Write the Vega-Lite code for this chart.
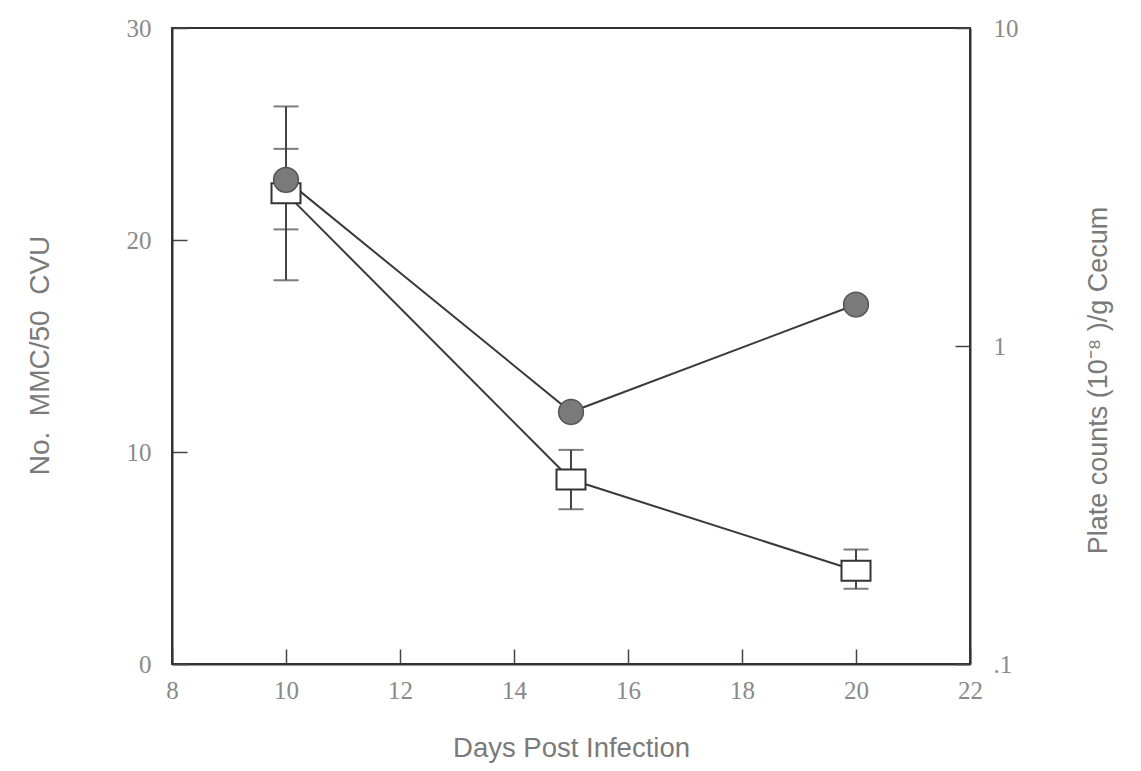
{
  "$schema": "https://vega.github.io/schema/vega-lite/v6.json",
  "width": 798,
  "height": 636,
  "autosize": "none",
  "padding": {"left": 172, "top": 28, "right": 171, "bottom": 107},
  "background": "white",
  "config": {
    "view": {"stroke": "#333333", "strokeWidth": 2},
    "axis": {
      "grid": false,
      "domainColor": "#333333",
      "domainWidth": 2,
      "tickColor": "#444444",
      "tickWidth": 1.5,
      "tickSize": -15,
      "labelFont": "Liberation Serif",
      "labelFontSize": 25,
      "labelColor": "#8a8a8a",
      "titleFont": "Liberation Sans",
      "titleFontSize": 27,
      "titleFontWeight": "normal",
      "titleColor": "#7a7a7a"
    }
  },
  "datasets": {
    "squares": [
      {"day": 10, "mmc": 22.2},
      {"day": 15, "mmc": 8.7},
      {"day": 20, "mmc": 4.4}
    ],
    "circles": [
      {"day": 10, "plate": 3.33},
      {"day": 15, "plate": 0.62},
      {"day": 20, "plate": 1.35}
    ],
    "err": [
      {"day": 10, "lo": 18.1, "hi": 26.3},
      {"day": 10, "lo": 20.5, "hi": 24.3},
      {"day": 15, "lo": 7.3, "hi": 10.1},
      {"day": 20, "lo": 3.55, "hi": 5.4}
    ]
  },
  "encoding": {
    "x": {
      "field": "day",
      "type": "quantitative",
      "scale": {"domain": [8, 22], "nice": false, "zero": false},
      "axis": {
        "values": [8, 10, 12, 14, 16, 18, 20, 22],
        "title": "Days Post Infection",
        "titleFontSize": 27.5,
        "labelPadding": 29,
        "titleY": 84,
        "titleBaseline": "middle",
        "labelFlush": false
      }
    }
  },
  "layer": [
    {
      "data": {"name": "err"},
      "mark": {"type": "rule", "color": "#444444", "strokeWidth": 2},
      "encoding": {
        "y": {
          "field": "lo",
          "type": "quantitative",
          "scale": {"domain": [0, 30], "nice": false, "zero": false},
          "axis": {
            "orient": "left",
            "values": [0, 10, 20, 30],
            "title": "No.\u00a0\u00a0MMC/50\u00a0\u00a0CVU",
            "titleFontSize": 28,
            "titleAngle": 270,
            "titleX": -132,
            "titleY": 327,
            "titleAlign": "center",
            "titleBaseline": "middle",
            "labelPadding": 36
          }
        },
        "y2": {"field": "hi"}
      }
    },
    {
      "data": {"name": "err"},
      "transform": [{"fold": ["lo", "hi"], "as": ["end", "val"]}],
      "mark": {"type": "tick", "orient": "horizontal", "size": 25, "thickness": 2, "color": "#444444"},
      "encoding": {
        "y": {
          "field": "val",
          "type": "quantitative",
          "scale": {"domain": [0, 30], "nice": false, "zero": false},
          "axis": null
        }
      }
    },
    {
      "data": {"name": "circles"},
      "mark": {"type": "line", "color": "#3a3a3a", "strokeWidth": 2},
      "encoding": {
        "y": {
          "field": "plate",
          "type": "quantitative",
          "scale": {"type": "log", "domain": [0.1, 10], "nice": false},
          "axis": {
            "orient": "right",
            "values": [0.1, 1, 10],
            "labelExpr": "datum.value < 0.5 ? '.1' : datum.value < 5 ? '1' : '10'",
            "title": "Plate counts (10⁻⁸ )/g Cecum",
            "titleAngle": 270,
            "titleX": 128,
            "titleY": 352,
            "titleAlign": "center",
            "titleBaseline": "middle",
            "labelPadding": 38
          }
        }
      }
    },
    {
      "data": {"name": "squares"},
      "mark": {"type": "line", "color": "#3a3a3a", "strokeWidth": 2},
      "encoding": {
        "y": {
          "field": "mmc",
          "type": "quantitative",
          "scale": {"domain": [0, 30], "nice": false, "zero": false},
          "axis": null
        }
      }
    },
    {
      "data": {"name": "squares"},
      "mark": {
        "type": "point",
        "shape": "M-1.45,-1L1.45,-1L1.45,1L-1.45,1Z",
        "size": 400,
        "filled": true,
        "fill": "white",
        "stroke": "#333333",
        "strokeWidth": 2,
        "opacity": 1
      },
      "encoding": {
        "y": {
          "field": "mmc",
          "type": "quantitative",
          "scale": {"domain": [0, 30], "nice": false, "zero": false},
          "axis": null
        }
      }
    },
    {
      "data": {"name": "circles"},
      "mark": {
        "type": "point",
        "shape": "circle",
        "size": 615,
        "filled": true,
        "fill": "#7a7a7a",
        "stroke": "#555555",
        "strokeWidth": 1.5,
        "opacity": 1
      },
      "encoding": {
        "y": {
          "field": "plate",
          "type": "quantitative",
          "scale": {"type": "log", "domain": [0.1, 10], "nice": false},
          "axis": null
        }
      }
    }
  ],
  "resolve": {"scale": {"y": "independent"}}
}
